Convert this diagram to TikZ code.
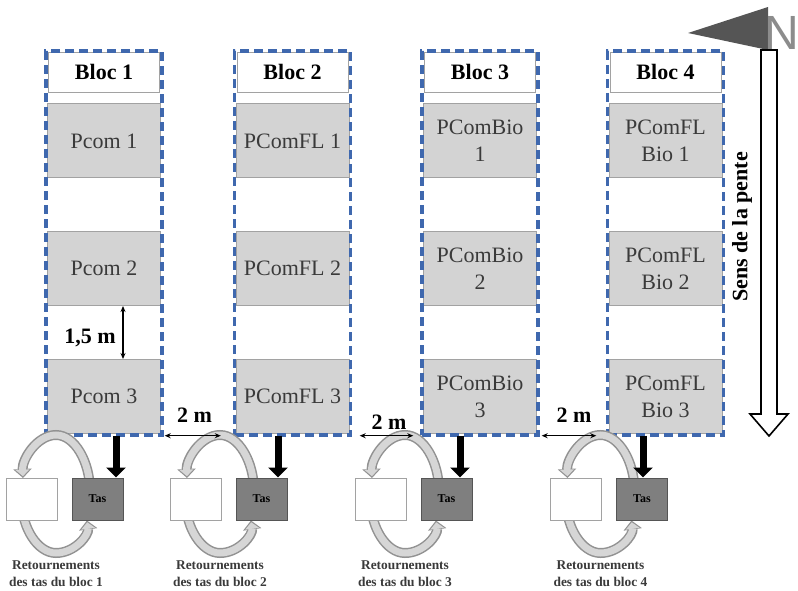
\documentclass[tikz,border=0pt]{standalone}
\usepackage{fontspec}
\setmainfont{Liberation Serif}
\newfontfamily\nordfont{Liberation Sans}
\usepackage{tikz}
\usetikzlibrary{
  arrows.meta,
  positioning,
}
\definecolor{blocblue}{HTML}{3F68AE}
\definecolor{plotfill}{HTML}{D3D3D3}
\definecolor{plotline}{HTML}{A2A2A2}
\definecolor{tasfill}{HTML}{7F7F7F}
\definecolor{tasline}{HTML}{555555}
\definecolor{ink}{HTML}{3A3A3A}
\definecolor{flipline}{HTML}{929292}
\definecolor{flipfill}{HTML}{D6D6D6}
\definecolor{nordgray}{HTML}{555555}
\definecolor{nordletter}{HTML}{8C8C8C}
\tikzset{
  >=Stealth,
  blocframe/.style={
    draw=blocblue,
    dash pattern=on 9pt off 5pt,
    line width=3.4pt,
    minimum width=116pt,
    minimum height=384pt,
    inner sep=0pt,
  },
  bloctitle/.style={
    draw=plotline, fill=white, line width=0.8pt,
    minimum width=111pt, minimum height=40pt, inner sep=0pt,
    font=\fontsize{22}{27}\selectfont\bfseries,
  },
  parcelle/.style={
    draw=plotline, fill=plotfill, line width=1pt,
    minimum width=113pt, minimum height=74pt, inner sep=0pt,
    align=center, text=ink,
    font=\fontsize{22}{27}\selectfont,
  },
  tasbox/.style={
    draw=#1, line width=1pt,
    minimum width=51pt, minimum height=42pt, inner sep=0pt,
    font=\fontsize{12}{14}\selectfont\bfseries,
  },
  cote/.style={<->, >={Stealth[length=6pt, width=5pt]}, line width=1.2pt},
  cotelabel/.style={font=\fontsize{22}{27}\selectfont\bfseries, inner sep=0pt},
  verstas/.style={line width=7pt, -{Triangle[length=10pt, width=19pt]}},
  flipout/.style={draw=flipline, line width=10pt, -{Triangle[length=9pt, width=18pt]}},
  flipin/.style={draw=flipfill, line width=7pt, shorten >=1.8pt, -{Triangle[length=6.5pt, width=13.5pt]}},
  pics/retournement/.style={
    code={
      % demi-tour du haut
      \draw[flipout] (58.5,-8) .. controls (58.5,-37) and (43.3,-64) .. (24.5,-64)
        .. controls (5.7,-64) and (-9.5,-40) .. (-8.5,-21);
      \draw[flipin] (58.5,-8) .. controls (58.5,-37) and (43.3,-64) .. (24.5,-64)
        .. controls (5.7,-64) and (-9.5,-40) .. (-8.5,-21);
      % demi-tour du bas
      \draw[flipout] (-9.5,4) .. controls (-9.5,28) and (5.7,54) .. (24.5,54)
        .. controls (43.3,54) and (57.5,36) .. (55.5,21.5);
      \draw[flipin] (-9.5,4) .. controls (-9.5,28) and (5.7,54) .. (24.5,54)
        .. controls (43.3,54) and (57.5,36) .. (55.5,21.5);
      \node[tasbox=plotline, fill=white] (-vide) at (0,0) {};
      \node[tasbox=tasline, fill=tasfill] (-tas) at (66,0) {Tas};
      \node[font=\fontsize{13.4}{17}\selectfont\bfseries, text=ink, align=center] (-legende) at (24.5,74.5) {Retournements\\des tas du bloc #1};
    }
  },
}

\begin{document}
\begin{tikzpicture}[x=1pt, y=-1pt]
  \useasboundingbox (0,0) rectangle (798,591);

  % Bloc 1
  \begin{scope}[shift={(104,0)}]
    \node[bloctitle] (t1) at (0,72) {Bloc 1};
    \node[parcelle] (b1p1) at (0,141) {Pcom 1};
    \node[parcelle] (b1p2) at (0,268.5) {Pcom 2};
    \node[parcelle] (b1p3) at (0,396.5) {Pcom 3};
    \node[blocframe] (f1) at (0,243) {};
  \end{scope}

  % Bloc 2
  \begin{scope}[shift={(292.5,0)}]
    \node[bloctitle] (t2) at (0,72) {Bloc 2};
    \node[parcelle] (b2p1) at (0,141) {PComFL 1};
    \node[parcelle] (b2p2) at (0,268.5) {PComFL 2};
    \node[parcelle] (b2p3) at (0,396.5) {PComFL 3};
    \node[blocframe] (f2) at (0,243) {};
  \end{scope}

  % Bloc 3
  \begin{scope}[shift={(480,0)}]
    \node[bloctitle] (t3) at (0,72) {Bloc 3};
    \node[parcelle] (b3p1) at (0,141) {PComBio\\1};
    \node[parcelle] (b3p2) at (0,268.5) {PComBio\\2};
    \node[parcelle] (b3p3) at (0,396.5) {PComBio\\3};
    \node[blocframe] (f3) at (0,243) {};
  \end{scope}

  % Bloc 4
  \begin{scope}[shift={(665.5,0)}]
    \node[bloctitle] (t4) at (0,72) {Bloc 4};
    \node[parcelle] (b4p1) at (0,141) {PComFL\\Bio 1};
    \node[parcelle] (b4p2) at (0,268.5) {PComFL\\Bio 2};
    \node[parcelle] (b4p3) at (0,396.5) {PComFL\\Bio 3};
    \node[blocframe] (f4) at (0,243) {};
  \end{scope}

  % Retournements des tas
  \pic (r1) at (31.5,499) {retournement=1};
  \pic (r2) at (195.5,499) {retournement=2};
  \pic (r3) at (380.5,499) {retournement=3};
  \pic (r4) at (576,499) {retournement=4};

  \draw[verstas] ([xshift=18.5pt, yshift=42pt]r1-tas.north) -- ([xshift=18.5pt]r1-tas.north);
  \draw[verstas] ([xshift=16.5pt, yshift=42pt]r2-tas.north) -- ([xshift=16.5pt]r2-tas.north);
  \draw[verstas] ([xshift=13.5pt, yshift=42pt]r3-tas.north) -- ([xshift=13.5pt]r3-tas.north);
  \draw[verstas] ([xshift=1pt, yshift=42pt]r4-tas.north) -- ([xshift=1pt]r4-tas.north);

  % Distances
  \draw[cote] ([xshift=19pt]b1p2.south) -- ([xshift=19pt]b1p3.north);
  \node[cotelabel] (d15) at (90,338) {1,5 m};
  \draw[cote] ([xshift=1pt, yshift=1pt]f1.south east) -- ([xshift=-12pt, yshift=1pt]f2.south west);
  \node[cotelabel] (d12) at (194.5,415) {2 m};
  \draw[cote] ([xshift=7.5pt, yshift=1pt]f2.south east) -- ([xshift=-7pt, yshift=1pt]f3.south west);
  \node[cotelabel] (d23) at (389,422) {2 m};
  \draw[cote] ([xshift=2pt, yshift=1pt]f3.south east) -- ([xshift=-9.5pt, yshift=1pt]f4.south west);
  \node[cotelabel] (d34) at (574,415) {2 m};

  % Nord et pente
  \fill[nordgray] (688,33) -- (768,7) -- (768,50) -- cycle;
  \node[font=\nordfont\fontsize{48}{48}\selectfont, text=nordletter, anchor=base west, inner sep=0pt] (nord) at (764,50) {N};
  \draw[line width=1.6pt, fill=white] (761,50) -- (777,50) -- (777,414) -- (788,414) -- (769,436) -- (750,414) -- (761,414) -- cycle;
  \node[rotate=90, font=\fontsize{22}{27}\selectfont\bfseries] (pente) at (742,227) {Sens de la pente};
\end{tikzpicture}
\end{document}
